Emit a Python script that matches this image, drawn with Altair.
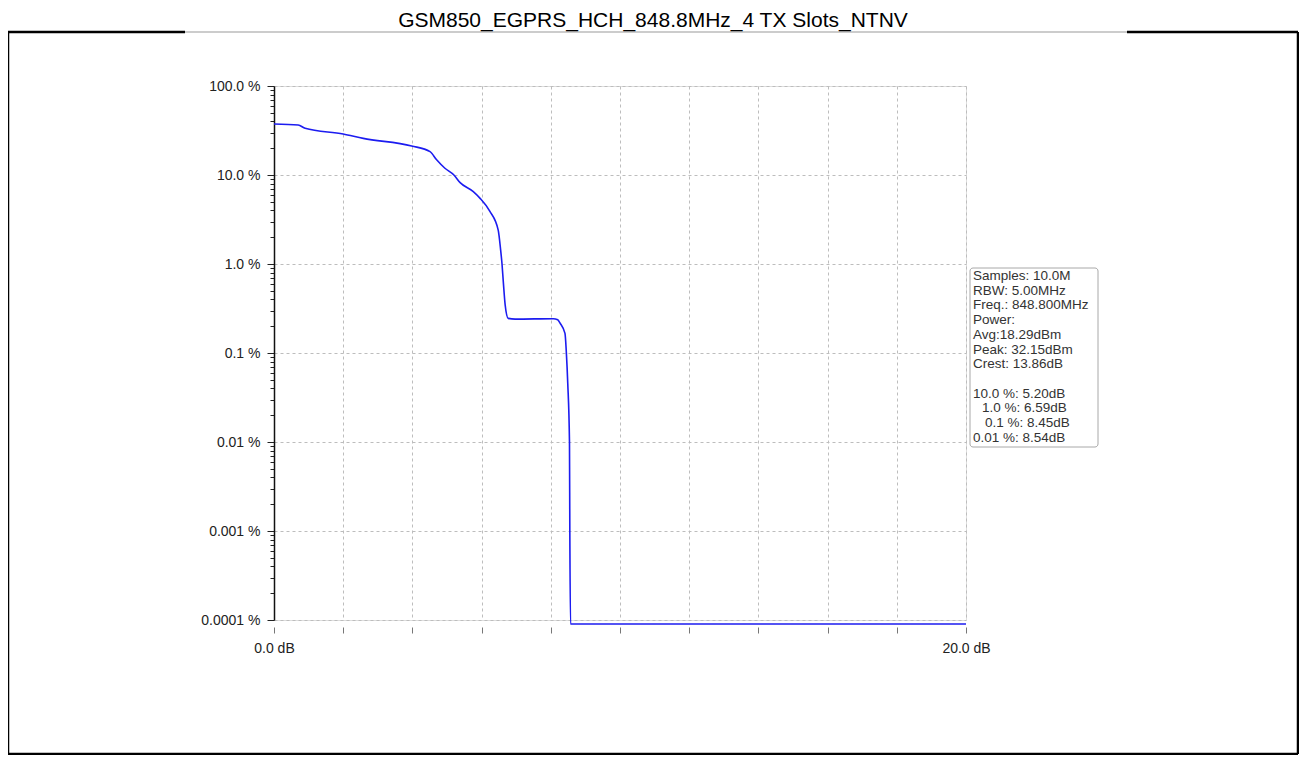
import altair as alt
import pandas as pd

# ---- data ----
level_db = [0.0, 0.70, 0.90, 2.0, 2.58, 3.98, 4.51, 4.70, 4.94, 5.20, 5.38, 5.76, 5.95,
            6.24, 6.48, 6.55, 6.59, 6.63, 6.68, 6.77, 6.97, 8.07, 8.20, 8.27, 8.41, 8.45,
            8.49, 8.54, 8.55, 8.57, 20.0]
ccdf_pct = [37.4, 36.5, 33.5, 28.9, 25.8, 21.2, 18.3, 14.8, 11.9, 10.0, 8.2, 6.5, 5.5,
            3.9, 2.4, 1.44, 1.0, 0.61, 0.35, 0.245, 0.24, 0.243, 0.236, 0.216, 0.166, 0.1,
            0.0457, 0.01, 0.00095, 0.00009, 0.00009]

x_ticks = [0, 2, 4, 6, 8, 10, 12, 14, 16, 18, 20]
decades = [100.0, 10.0, 1.0, 0.1, 0.01, 0.001, 0.0001]
decade_labels = ["100.0 %", "10.0 %", "1.0 %", "0.1 %", "0.01 %", "0.001 %", "0.0001 %"]
minor_mult = [2, 3, 4, 5, 6, 7, 8, 9]

title_text = "GSM850_EGPRS_HCH_848.8MHz_4 TX Slots_NTNV"
info_lines = ["Samples: 10.0M", "RBW: 5.00MHz", "Freq.: 848.800MHz", "Power:",
              "Avg:18.29dBm", "Peak: 32.15dBm", "Crest: 13.86dB"]
level_lines = ["10.0 %: 5.20dB", "1.0 %: 6.59dB", "0.1 %: 8.45dB", "0.01 %: 8.54dB"]
level_indent = [0, 9, 12, 0]

FONT = "Liberation Sans"

df = pd.DataFrame({"db": level_db, "pct": ccdf_pct})

y_vals = list(decades)
for d in decades[1:]:
    for m in minor_mult:
        y_vals.append(round(d * m, 10))

is_decade = "abs(log(datum.value)/LN10 - round(log(datum.value)/LN10)) < 1e-6"
lab = "''"
for v, l in zip(decades[::-1], decade_labels[::-1]):
    lab = f"(abs(datum.value - {v}) < {v}*1e-6 ? '{l}' : {lab})"

x_enc = alt.X("db:Q",
              scale=alt.Scale(domain=[0, 20], nice=False, zero=False),
              axis=alt.Axis(values=x_ticks, title=None, grid=True, gridColor="#bdbdbd",
                            gridDash=[3, 3], gridWidth=1, domain=False, offset=7,
                            tickSize=6, tickColor="#777", tickWidth=1,
                            labelExpr="datum.value == 0 ? '0.0 dB' : (datum.value == 20 ? '20.0 dB' : '')",
                            labelFlush=False, labelOverlap=False, labelFont=FONT,
                            labelFontSize=14, labelColor="#222", labelPadding=8))
y_enc = alt.Y("pct:Q",
              scale=alt.Scale(type="log", domain=[0.0001, 100], nice=False),
              axis=alt.Axis(values=y_vals, title=None, grid=True, gridColor="#bdbdbd",
                            gridDash=[3, 3],
                            gridOpacity={"condition": {"test": is_decade, "value": 1}, "value": 0},
                            tickSize={"condition": {"test": is_decade, "value": 7}, "value": 4},
                            tickColor="#222", domain=True, domainColor="#111", domainWidth=1.5,
                            labelExpr=lab, labelOverlap=False, labelFlush=False, labelFont=FONT,
                            labelFontSize=14, labelColor="#222", labelPadding=7))

line = alt.Chart(df).mark_line(color="#1c1cf0", strokeWidth=1.6, interpolate="monotone",
                               clip=False).encode(x=x_enc, y=y_enc)

one = pd.DataFrame({"a": [0]})

def seg(x1, x2, y1, y2, color, w):
    return alt.Chart(one).mark_rule(color=color, strokeWidth=w).encode(
        x=alt.value(x1), x2=alt.value(x2), y=alt.value(y1), y2=alt.value(y2))

TOP = -54
frame = [
    seg(-266, -266, TOP, 668, "#000", 2.5),
    seg(1024, 1024, TOP, 668, "#000", 2.5),
    seg(-266, 1024, 668, 668, "#000", 2.5),
    seg(-266, -89, TOP, TOP, "#000", 2.5),
    seg(-89, 853, TOP, TOP, "#999", 1),
    seg(853, 1024, TOP, TOP, "#000", 2.5),
]

title = alt.Chart(one).mark_text(font=FONT, fontSize=21, color="#000", align="center",
                                 baseline="middle").encode(
    x=alt.value(379), y=alt.value(-65), text=alt.value(title_text))

box = alt.Chart(one).mark_rect(fill="white", stroke="#a8a8a8", strokeWidth=1,
                               cornerRadius=3).encode(
    x=alt.value(696), x2=alt.value(824), y=alt.value(182), y2=alt.value(361))

LH = 14.7
Y0 = 190
texts = []
for i, t in enumerate(info_lines):
    texts.append(alt.Chart(one).mark_text(font=FONT, fontSize=13.5, color="#333", align="left",
                                          baseline="middle").encode(
        x=alt.value(699), y=alt.value(Y0 + i * LH), text=alt.value(t)))
for j, (t, ind) in enumerate(zip(level_lines, level_indent)):
    texts.append(alt.Chart(one).mark_text(font=FONT, fontSize=13.5, color="#333", align="left",
                                          baseline="middle").encode(
        x=alt.value(699 + ind), y=alt.value(Y0 + (len(info_lines) + 1 + j) * LH),
        text=alt.value(t)))

chart = alt.layer(line, *frame, title, box, *texts).properties(
    width=692, height=534,
    autosize=alt.AutoSizeParams(type="none"),
    padding={"left": 266, "top": 78, "right": 333, "bottom": 135},
).configure_view(stroke="#111", strokeWidth=1.5).configure(background="white")

chart.save("out.html", embed_options={"renderer": "svg", "actions": False})
